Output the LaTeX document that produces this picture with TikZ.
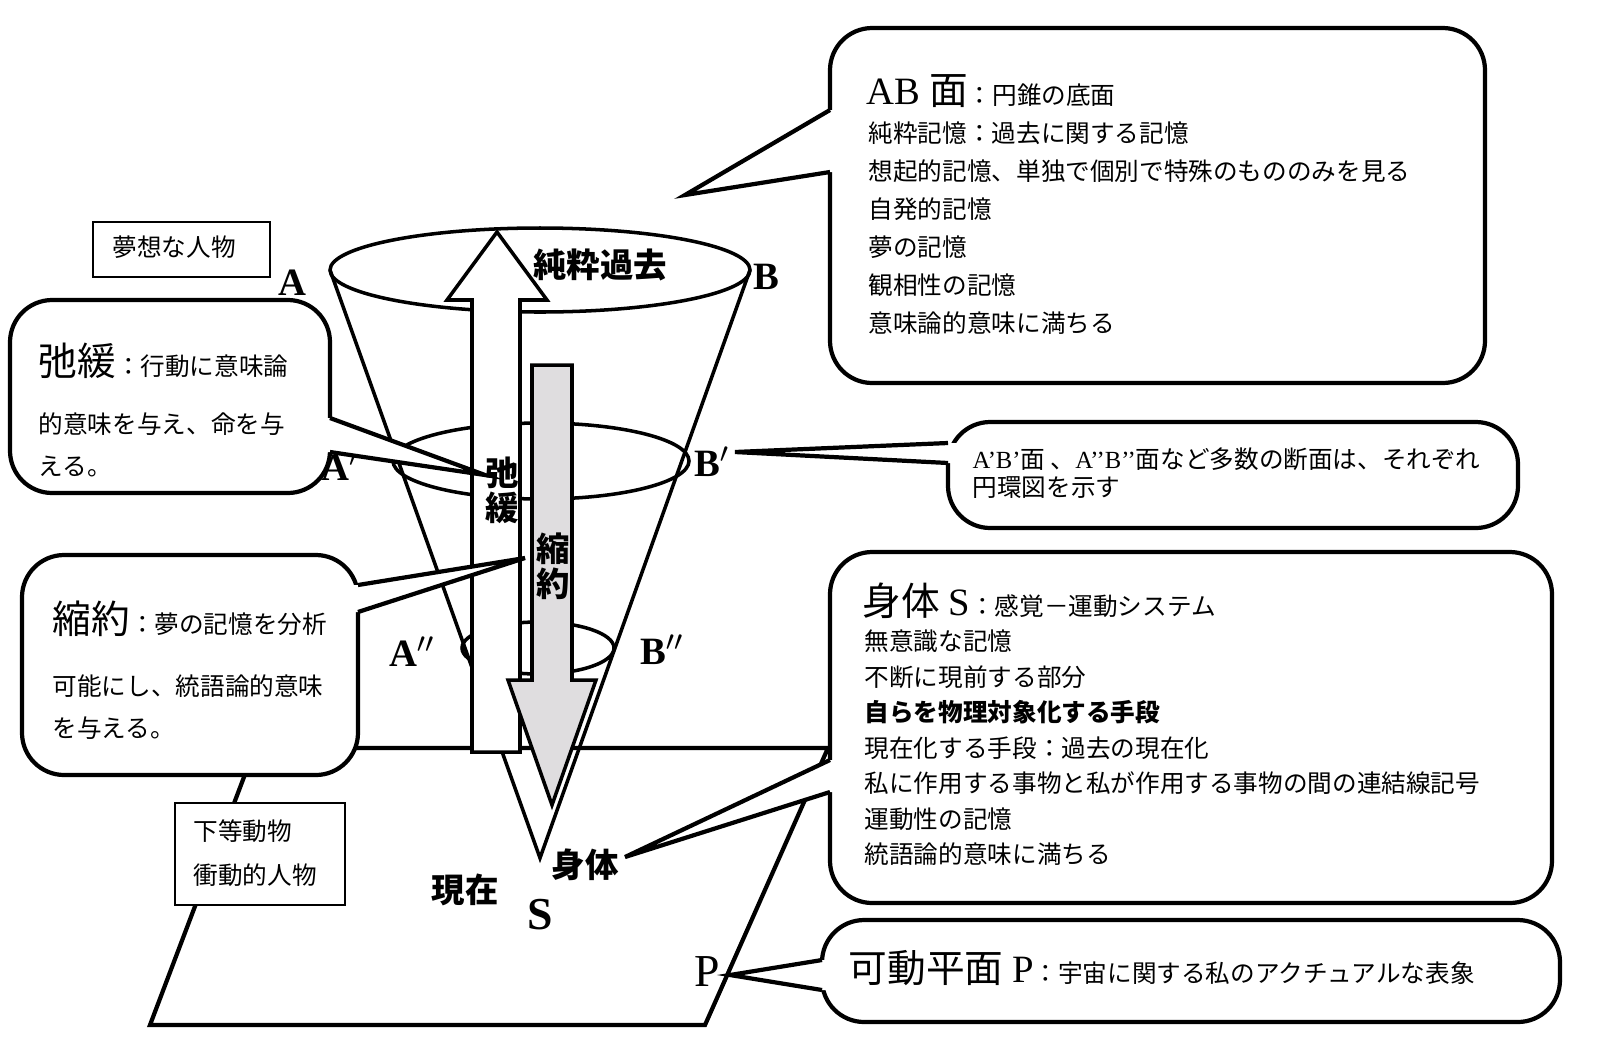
\documentclass[tikz,border=0pt]{standalone}
\usepackage{fontspec}
\setmainfont{Liberation Serif}
\newfontfamily\jp{Noto Sans CJK JP}
\usetikzlibrary{positioning}
\tikzset{
  callout/.style={draw, line width=1.2pt, rounded corners=12pt, fill=white},
  tag/.style={draw, line width=0.8pt, fill=white},
  txt/.style={anchor=base west, inner sep=0pt, font=\jp\fontsize{7}{8}\selectfont},
  letter/.style={inner sep=0pt, font=\fontsize{11}{12}\selectfont\bfseries},
  conelbl/.style={inner sep=0pt, font=\jp\fontsize{9.5}{10}\selectfont\bfseries}
}
\newcommand{\wedgeto}[4]{% tip, base1, base2, inward shift
  \fill[white] (#2) -- (#1) -- (#3) -- ([xshift=#4]#3) -- ([xshift=#4]#2) -- cycle;
  \draw[line width=1.2pt] (#2) -- (#1) -- (#3);}
\newcommand{\headtxt}[1]{{\fontsize{11}{12}\selectfont #1}}
\begin{document}
\begin{tikzpicture}[x=0.01cm, y=-0.01cm]
    \useasboundingbox (0,0) rectangle (1600,1057);

    % plane P
    \draw[line width=1.2pt] (255,748) -- (828,748) -- (705,1025) -- (150,1025) -- cycle;

    % cone
    \draw[line width=1pt] (330,270) -- (540,858) -- (750,270);
    \draw[line width=1pt] (540,270) ellipse (210 and 42);
    \draw[line width=1pt] (541,461) ellipse (148 and 38);
    \draw[line width=1pt] (538,648) ellipse (76 and 26);

    % arrows
    \draw[line width=1pt, fill=white] (472,752) -- (472,300) -- (447,300) -- (497,232)
        -- (547,300) -- (520,300) -- (520,752) -- cycle;
    \draw[line width=1pt, fill=violet!8!gray!25] (532,365) -- (572,365) -- (572,680) -- (596,680)
        -- (552,805) -- (508,680) -- (532,680) -- cycle;
    \node[conelbl, align=center] (kanwa) at (502,490) {弛\\緩};
    \node[conelbl, align=center] (shukuyaku) at (553,566) {縮\\約};

    % cone labels
    \node[conelbl] (kako) at (600,265) {純粋過去};
    \node[letter] (A) at (292,283) {A};
    \node[letter] (B) at (766,277) {B};
    \node[letter] (A1) at (340,466) {A$'$};
    \node[letter] (B1) at (712,462) {B$'$};
    \node[letter] (A2) at (412,652) {A$''$};
    \node[letter] (B2) at (662,650) {B$''$};
    \node[letter, font=\fontsize{13}{14}\selectfont\bfseries] (S) at (540,915) {S};
    \node[conelbl] (genzai) at (465,890) {現在};
    \node[conelbl] (shintai) at (585,865) {身体};
    \node[inner sep=0pt, font=\fontsize{13}{14}\selectfont] (P) at (707,972) {P};

    % small boxes
    \draw[tag] (93,222) rectangle (270,277);
    \node[txt] (musou) at (112,256) {夢想な人物};
    \draw[tag] (175,803) rectangle (345,905);
    \node[txt] (katou) at (193,840) {下等動物};
    \node[txt] (shoudou) at (193,884) {衝動的人物};

    % callout: kanwa
    \draw[callout] (10,300) rectangle (330,493);
    \wedgeto{485,475}{330,418}{330,452}{-6}
    \node[txt] (k1) at (38,375) {\headtxt{弛緩}：行動に意味論};
    \node[txt] (k2) at (38,433) {的意味を与え、命を与};
    \node[txt] (k3) at (38,475) {える。};

    % callout: shukuyaku
    \draw[callout] (22,555) rectangle (358,775);
    \wedgeto{525,558}{358,585}{358,612}{-6}
    \node[txt] (s1) at (52,633) {\headtxt{縮約}：夢の記憶を分析};
    \node[txt] (s2) at (52,695) {可能にし、統語論的意味};
    \node[txt] (s3) at (52,737) {を与える。};

    % callout: AB
    \draw[callout] (830,28) rectangle (1485,383);
    \wedgeto{685,195}{830,110}{830,172}{6}
    \node[txt] (ab0) at (866,104) {\headtxt{{\rmfamily AB} 面}：円錐の底面};
    \foreach \t [count=\i] in {純粋記憶：過去に関する記憶,
        想起的記憶、単独で個別で特殊のもののみを見る, 自発的記憶, 夢の記憶,
        観相性の記憶, 意味論的意味に満ちる}
        \node[txt] (ab\i) at (868,104+38*\i) {\t};

    % callout: A'B'
    \draw[callout] (948,422) rectangle (1518,528);
    \wedgeto{735,452}{948,443}{948,463}{6}
    \node[txt] (ab1a) at (972,468) {{\rmfamily A’B’}面 、{\rmfamily A’’B’’}面など多数の断面は、それぞれ};
    \node[txt] (ab1b) at (972,496) {円環図を示す};

    % callout: shintai
    \draw[callout] (830,552) rectangle (1552,903);
    \wedgeto{625,857}{830,760}{830,792}{6}
    \node[txt] (sh0) at (862,615) {\headtxt{身体 {\rmfamily S}}：感覚－運動システム};
    \foreach \t [count=\i] in {無意識な記憶, 不断に現前する部分,
        {\bfseries 自らを物理対象化する手段}, 現在化する手段：過去の現在化,
        私に作用する事物と私が作用する事物の間の連結線記号, 運動性の記憶,
        統語論的意味に満ちる}
        \node[txt] (sh\i) at (864,615+35.5*\i) {\t};

    % callout: P
    \draw[callout] (822,920) rectangle (1560,1022);
    \wedgeto{730,975}{822,960}{822,990}{6}
    \node[txt] (p0) at (848,982) {\headtxt{可動平面 {\rmfamily P}}：宇宙に関する私のアクチュアルな表象};
\end{tikzpicture}
\end{document}
